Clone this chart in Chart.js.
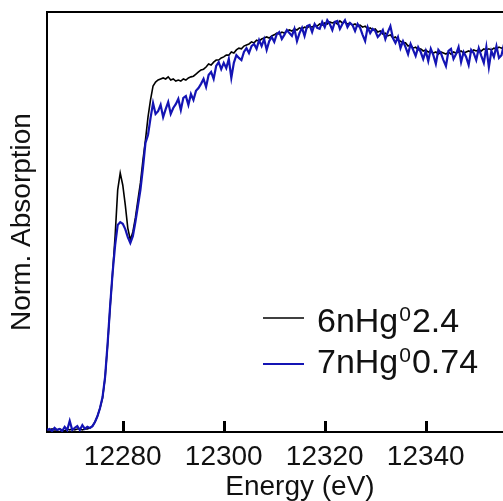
<!DOCTYPE html>
<html>
<head>
<meta charset="utf-8">
<script src="https://cdn.jsdelivr.net/npm/chart.js@4.4.1/dist/chart.umd.min.js"></script>
<style>
  html, body { margin: 0; padding: 0; background: #fff; overflow: hidden; }
  #xanesChart { display: block; }
</style>
</head>
<body>
<canvas id="xanesChart" width="553" height="501"></canvas>
<script>
// energy grid (eV), 0.5 eV steps
const energy = [
  12265, 12265.5, 12266, 12266.5, 12267, 12267.5, 12268, 12268.5, 12269, 12269.5,
  12270, 12270.5, 12271, 12271.5, 12272, 12272.5, 12273, 12273.5, 12274, 12274.5,
  12275, 12275.5, 12276, 12276.5, 12277, 12277.5, 12278, 12278.5, 12279, 12279.5,
  12280, 12280.5, 12281, 12281.5, 12282, 12282.5, 12283, 12283.5, 12284, 12284.5,
  12285, 12285.5, 12286, 12286.5, 12287, 12287.5, 12288, 12288.5, 12289, 12289.5,
  12290, 12290.5, 12291, 12291.5, 12292, 12292.5, 12293, 12293.5, 12294, 12294.5,
  12295, 12295.5, 12296, 12296.5, 12297, 12297.5, 12298, 12298.5, 12299, 12299.5,
  12300, 12300.5, 12301, 12301.5, 12302, 12302.5, 12303, 12303.5, 12304, 12304.5,
  12305, 12305.5, 12306, 12306.5, 12307, 12307.5, 12308, 12308.5, 12309, 12309.5,
  12310, 12310.5, 12311, 12311.5, 12312, 12312.5, 12313, 12313.5, 12314, 12314.5,
  12315, 12315.5, 12316, 12316.5, 12317, 12317.5, 12318, 12318.5, 12319, 12319.5,
  12320, 12320.5, 12321, 12321.5, 12322, 12322.5, 12323, 12323.5, 12324, 12324.5,
  12325, 12325.5, 12326, 12326.5, 12327, 12327.5, 12328, 12328.5, 12329, 12329.5,
  12330, 12330.5, 12331, 12331.5, 12332, 12332.5, 12333, 12333.5, 12334, 12334.5,
  12335, 12335.5, 12336, 12336.5, 12337, 12337.5, 12338, 12338.5, 12339, 12339.5,
  12340, 12340.5, 12341, 12341.5, 12342, 12342.5, 12343, 12343.5, 12344, 12344.5,
  12345, 12345.5, 12346, 12346.5, 12347, 12347.5, 12348, 12348.5, 12349, 12349.5,
  12350, 12350.5, 12351, 12351.5, 12352, 12352.5, 12353, 12353.5, 12354, 12354.5,
  12355, 12355.5, 12356
];

// 6nHg0 2.4 (black)
const absHg24 = [
  0.000, 0.000, 0.003, 0.000, 0.000, 0.003, 0.000, -0.003, 0.003, 0.000,
  0.003, 0.000, 0.003, 0.003, 0.000, 0.003, 0.003, 0.006, 0.011, 0.023,
  0.040, 0.063, 0.091, 0.149, 0.243, 0.351, 0.451, 0.557, 0.686, 0.734,
  0.700, 0.643, 0.577, 0.543, 0.566, 0.606, 0.657, 0.706, 0.771, 0.829,
  0.894, 0.943, 0.983, 0.994, 1.000, 1.003, 1.006, 1.003, 1.009, 1.000,
  1.003, 0.997, 1.000, 0.997, 1.003, 1.000, 1.006, 1.009, 1.011, 1.017,
  1.023, 1.029, 1.031, 1.037, 1.046, 1.043, 1.051, 1.057, 1.057, 1.063,
  1.066, 1.071, 1.071, 1.080, 1.077, 1.086, 1.091, 1.089, 1.097, 1.100,
  1.103, 1.109, 1.106, 1.114, 1.111, 1.117, 1.120, 1.123, 1.120, 1.126,
  1.129, 1.134, 1.131, 1.137, 1.134, 1.140, 1.143, 1.140, 1.146, 1.143,
  1.149, 1.146, 1.151, 1.149, 1.154, 1.151, 1.157, 1.154, 1.160, 1.157,
  1.163, 1.160, 1.166, 1.163, 1.166, 1.160, 1.169, 1.163, 1.166, 1.160,
  1.163, 1.157, 1.160, 1.154, 1.157, 1.151, 1.154, 1.146, 1.149, 1.143,
  1.146, 1.137, 1.140, 1.131, 1.134, 1.126, 1.129, 1.120, 1.123, 1.114,
  1.111, 1.106, 1.106, 1.097, 1.100, 1.091, 1.094, 1.086, 1.089, 1.083,
  1.086, 1.080, 1.083, 1.077, 1.080, 1.074, 1.080, 1.077, 1.074, 1.080,
  1.074, 1.080, 1.077, 1.080, 1.083, 1.077, 1.080, 1.083, 1.080, 1.086,
  1.083, 1.086, 1.083, 1.089, 1.086, 1.089, 1.086, 1.091, 1.089, 1.094,
  1.091, 1.094, 1.094
];

// 7nHg0 0.74 (blue)
const absHg074 = [
  0.000, 0.003, -0.003, 0.006, 0.000, 0.003, -0.003, 0.009, 0.000, 0.026,
  0.000, 0.006, 0.011, 0.000, 0.014, 0.003, 0.009, 0.006, 0.011, 0.023,
  0.040, 0.063, 0.094, 0.151, 0.246, 0.354, 0.451, 0.529, 0.586, 0.594,
  0.589, 0.574, 0.551, 0.534, 0.554, 0.594, 0.640, 0.686, 0.749, 0.820,
  0.843, 0.891, 0.934, 0.903, 0.911, 0.929, 0.894, 0.917, 0.937, 0.903,
  0.920, 0.931, 0.946, 0.914, 0.949, 0.954, 0.929, 0.960, 0.943, 0.969,
  0.977, 0.989, 1.003, 0.980, 1.014, 1.023, 1.003, 1.040, 1.051, 1.031,
  1.049, 1.034, 1.060, 1.006, 1.049, 1.071, 1.063, 1.057, 1.080, 1.091,
  1.077, 1.097, 1.103, 1.089, 1.114, 1.097, 1.117, 1.086, 1.111, 1.123,
  1.109, 1.131, 1.137, 1.117, 1.129, 1.143, 1.134, 1.126, 1.146, 1.111,
  1.134, 1.149, 1.126, 1.154, 1.157, 1.137, 1.160, 1.149, 1.146, 1.166,
  1.151, 1.171, 1.160, 1.143, 1.166, 1.169, 1.146, 1.160, 1.171, 1.151,
  1.163, 1.157, 1.140, 1.160, 1.149, 1.129, 1.111, 1.151, 1.134, 1.146,
  1.140, 1.123, 1.131, 1.143, 1.117, 1.137, 1.154, 1.120, 1.106, 1.123,
  1.091, 1.111, 1.094, 1.074, 1.103, 1.086, 1.069, 1.094, 1.080, 1.060,
  1.083, 1.054, 1.089, 1.071, 1.046, 1.086, 1.077, 1.057, 1.040, 1.083,
  1.089, 1.060, 1.074, 1.094, 1.051, 1.080, 1.066, 1.043, 1.086, 1.077,
  1.057, 1.091, 1.069, 1.049, 1.094, 1.037, 1.083, 1.066, 1.097, 1.063,
  1.071, 1.103, 1.080
];

const xTicks = [12280, 12300, 12320, 12340];
// legend text: [main, superscript, tail]
const legendParts = [
  ['6nHg', '0', '2.4'],
  ['7nHg', '0', '0.74']
];

const FONT = "'Liberation Sans', Arial, sans-serif";
const Y_MIN = -0.0057;
const Y_MAX = 1.1943;
const TICK_PX = 11; // довжина внутрішньої риски, px

const toPoints = (xs, ys) => xs.map((x, i) => ({ x: x, y: ys[i] }));

// рамка зверху + риски всередину
const framePlugin = {
  id: 'topFrame',
  afterDraw(chart) {
    const ctx = chart.ctx;
    const area = chart.chartArea;
    const xScale = chart.scales.x;
    ctx.save();
    ctx.fillStyle = '#000';
    // верхня лінія
    ctx.fillRect(area.left - 1, area.top - 1, area.right - area.left + 1, 2);
    // риски
    for (let i = 0; i < xTicks.length; i++) {
      const px = Math.round(xScale.getPixelForValue(xTicks[i]));
      ctx.fillRect(px - 1, area.bottom - TICK_PX, 3, TICK_PX + 1);
    }
    ctx.restore();
  }
};

// легенда з верхнім індексом
const supLegendPlugin = {
  id: 'supLegend',
  afterDraw(chart) {
    const ctx = chart.ctx;
    const lineY = [318, 364];
    const baseY = [332, 373];
    ctx.save();
    chart.data.datasets.forEach((ds, i) => {
      const [main, sup, tail] = legendParts[i];
      ctx.strokeStyle = ds.borderColor;
      ctx.lineWidth = ds.borderWidth;
      ctx.beginPath();
      ctx.moveTo(263, lineY[i]);
      ctx.lineTo(304, lineY[i]);
      ctx.stroke();

      ctx.fillStyle = '#111';
      ctx.textBaseline = 'alphabetic';
      ctx.textAlign = 'left';
      let x = 317;
      ctx.font = `34px ${FONT}`;
      ctx.fillText(main, x, baseY[i]);
      x += ctx.measureText(main).width + 1;
      ctx.font = `21px ${FONT}`;
      ctx.fillText(sup, x, baseY[i] - 11);
      x += ctx.measureText(sup).width + 1;
      ctx.font = `34px ${FONT}`;
      ctx.fillText(tail, x, baseY[i]);
    });
    ctx.restore();
  }
};

new Chart(document.getElementById('xanesChart'), {
  type: 'line',
  data: {
    datasets: [
      {
        label: '6nHg0 2.4',
        data: toPoints(energy, absHg24),
        borderColor: '#000000',
        borderWidth: 1.6,
        pointRadius: 0,
        tension: 0,
        order: 1
      },
      {
        label: '7nHg0 0.74',
        data: toPoints(energy, absHg074),
        borderColor: '#1414b4',
        borderWidth: 2.2,
        pointRadius: 0,
        tension: 0,
        order: 0
      }
    ]
  },
  options: {
    responsive: false,
    animation: false,
    devicePixelRatio: 1,
    layout: { padding: { top: 12, left: 0, right: 0, bottom: 0 } },
    plugins: { legend: { display: false }, tooltip: { enabled: false } },
    scales: {
      x: {
        type: 'linear',
        min: 12265,
        max: 12365.2,
        afterBuildTicks: s => { s.ticks = xTicks.map(v => ({ value: v })); },
        afterFit: s => { s.height = 69; },
        grid: { display: false, drawTicks: false },
        border: { display: true, color: '#000', width: 2 },
        ticks: {
          color: '#111',
          font: { family: FONT, size: 28 },
          padding: 8,
          maxRotation: 0,
          autoSkip: false,
          callback: v => String(v)
        },
        title: {
          display: true,
          text: 'Energy (eV)',
          color: '#111',
          font: { family: FONT, size: 28, lineHeight: 1 },
          padding: 0
        }
      },
      y: {
        min: Y_MIN,
        max: Y_MAX,
        afterFit: s => { s.width = 47; },
        grid: { display: false, drawTicks: false },
        border: { display: true, color: '#000', width: 2 },
        ticks: { display: false },
        title: {
          display: true,
          text: 'Norm. Absorption',
          color: '#111',
          font: { family: FONT, size: 28, lineHeight: 1 },
          padding: { top: 8, bottom: 0 }
        }
      }
    }
  },
  plugins: [framePlugin, supLegendPlugin]
});
</script>
</body>
</html>
